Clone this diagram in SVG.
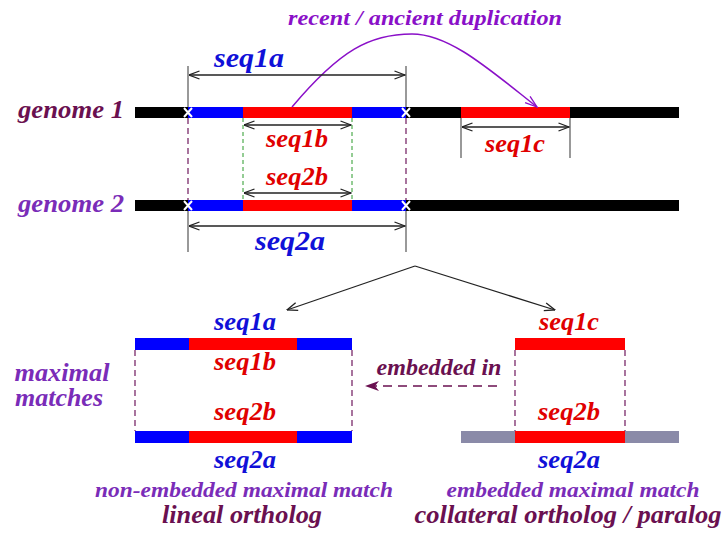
<svg xmlns="http://www.w3.org/2000/svg" width="724" height="533" viewBox="0 0 724 533" font-family="'Liberation Serif', 'DejaVu Serif', 'Times New Roman', serif" font-weight="bold" font-style="italic">
<defs>
<style>
text{text-anchor:middle}
.blue{fill:#1010d8}
.red{fill:#e00000}
.pur{fill:#7a2cb8}
.vio{fill:#8a10c8}
.mar{fill:#6a1050}
.dim{stroke:#222;stroke-width:1.3;fill:none}
.tick{stroke:#555;stroke-width:1.2}
.gdash{stroke:#2a9a2a;stroke-width:1;stroke-dasharray:4,3}
.pdash{stroke:#7a2a6a;stroke-width:1.3;stroke-dasharray:6,4}
.xm{stroke:#fff;stroke-width:2}
</style>
<marker id="open" viewBox="0 0 12 10" refX="11.5" refY="5" markerWidth="12" markerHeight="10" markerUnits="userSpaceOnUse" orient="auto-start-reverse">
<path d="M1,1 L11.5,5 L1,9" fill="none" stroke="#222" stroke-width="1.3"/>
</marker>
<marker id="openv" viewBox="0 0 14 10" refX="13" refY="5" markerWidth="14" markerHeight="10" markerUnits="userSpaceOnUse" orient="auto">
<path d="M1,1 L13,5 L1,9" fill="none" stroke="#8a10c8" stroke-width="1.3"/>
</marker>
<marker id="fill" viewBox="0 0 14 10" refX="13" refY="5" markerWidth="14" markerHeight="10" markerUnits="userSpaceOnUse" orient="auto">
<path d="M0,0 L14,5 L0,10 L4,5 Z" fill="#6a1050"/>
</marker>
</defs>
<rect width="724" height="533" fill="#fff"/>

<g id="title">
<text class="vio" x="425" y="25" font-size="22" textLength="274" lengthAdjust="spacingAndGlyphs">recent / ancient duplication</text>
</g>

<g id="genome1">
<text class="mar" x="71" y="118" font-size="25" textLength="106" lengthAdjust="spacingAndGlyphs">genome 1</text>
<rect x="135" y="107" width="544" height="11" fill="#000"/>
<rect x="188" y="107" width="55" height="11" fill="#0000ff"/>
<rect x="243" y="107" width="109" height="11" fill="#ff0000"/>
<rect x="352" y="107" width="54" height="11" fill="#0000ff"/>
<rect x="461" y="107" width="109" height="11" fill="#ff0000"/>
<path class="xm" d="M184,108 L192,117 M192,108 L184,117 M402,108 L410,117 M410,108 L402,117"/>
</g>

<g id="genome2">
<text class="pur" x="71" y="212" font-size="25" textLength="106" lengthAdjust="spacingAndGlyphs">genome 2</text>
<rect x="135" y="200" width="544" height="11" fill="#000"/>
<rect x="188" y="200" width="55" height="11" fill="#0000ff"/>
<rect x="243" y="200" width="109" height="11" fill="#ff0000"/>
<rect x="352" y="200" width="54" height="11" fill="#0000ff"/>
<path class="xm" d="M184,201 L192,210 M192,201 L184,210 M402,201 L410,210 M410,201 L402,210"/>
</g>

<g id="connectors">
<path d="M292,107 C340,50 370,34 412,34 C450,34 490,70 537,107" fill="none" stroke="#8a10c8" stroke-width="1.5" marker-end="url(#openv)"/>
<line class="tick" x1="188" y1="66" x2="188" y2="107"/>
<line class="tick" x1="406" y1="66" x2="406" y2="107"/>
<line class="dim" x1="189" y1="75" x2="405" y2="75" marker-start="url(#open)" marker-end="url(#open)"/>
<line class="dim" x1="244" y1="125" x2="351" y2="125" marker-start="url(#open)" marker-end="url(#open)"/>
<line class="tick" x1="461" y1="118" x2="461" y2="158"/>
<line class="tick" x1="570" y1="118" x2="570" y2="158"/>
<line class="dim" x1="462" y1="127" x2="569" y2="127" marker-start="url(#open)" marker-end="url(#open)"/>
<line class="gdash" x1="243" y1="118" x2="243" y2="200"/>
<line class="gdash" x1="352" y1="118" x2="352" y2="200"/>
<line class="pdash" x1="188" y1="118" x2="188" y2="200"/>
<line class="pdash" x1="406" y1="118" x2="406" y2="200"/>
<line class="dim" x1="244" y1="193" x2="351" y2="193" marker-start="url(#open)" marker-end="url(#open)"/>
<line class="tick" x1="188" y1="211" x2="188" y2="252"/>
<line class="tick" x1="406" y1="211" x2="406" y2="252"/>
<line class="dim" x1="189" y1="226" x2="405" y2="226" marker-start="url(#open)" marker-end="url(#open)"/>
<path class="dim" d="M415,266 L287,310" marker-end="url(#open)"/>
<path class="dim" d="M415,266 L555,310" marker-end="url(#open)"/>
<line class="pdash" x1="135" y1="350" x2="135" y2="431"/>
<line class="pdash" x1="352" y1="350" x2="352" y2="431"/>
<line class="pdash" x1="515" y1="350" x2="515" y2="431"/>
<line class="pdash" x1="625" y1="350" x2="625" y2="431"/>
<line x1="497" y1="386" x2="366" y2="386" stroke="#6a1050" stroke-width="1.5" stroke-dasharray="9,6" marker-end="url(#fill)"/>
</g>

<g id="labels-top">
<text class="blue" x="249" y="67" font-size="28" textLength="70" lengthAdjust="spacingAndGlyphs">seq1a</text>
<text class="red" x="297" y="147" font-size="25" textLength="62" lengthAdjust="spacingAndGlyphs">seq1b</text>
<text class="red" x="515" y="152" font-size="25" textLength="60" lengthAdjust="spacingAndGlyphs">seq1c</text>
<text class="red" x="297" y="185" font-size="25" textLength="62" lengthAdjust="spacingAndGlyphs">seq2b</text>
<text class="blue" x="290" y="250" font-size="28" textLength="70" lengthAdjust="spacingAndGlyphs">seq2a</text>
</g>

<g id="match-left">
<text class="blue" x="245" y="330" font-size="25" textLength="62" lengthAdjust="spacingAndGlyphs">seq1a</text>
<rect x="135" y="338" width="217" height="12" fill="#0000ff"/>
<rect x="189" y="338" width="108" height="12" fill="#ff0000"/>
<text class="red" x="245" y="370" font-size="25" textLength="62" lengthAdjust="spacingAndGlyphs">seq1b</text>
<text class="red" x="245" y="420" font-size="25" textLength="62" lengthAdjust="spacingAndGlyphs">seq2b</text>
<rect x="135" y="431" width="217" height="12" fill="#0000ff"/>
<rect x="189" y="431" width="108" height="12" fill="#ff0000"/>
<text class="blue" x="245" y="468" font-size="25" textLength="62" lengthAdjust="spacingAndGlyphs">seq2a</text>
</g>

<g id="match-right">
<text class="red" x="569" y="330" font-size="25" textLength="60" lengthAdjust="spacingAndGlyphs">seq1c</text>
<rect x="515" y="338" width="110" height="12" fill="#ff0000"/>
<text class="red" x="569" y="420" font-size="25" textLength="62" lengthAdjust="spacingAndGlyphs">seq2b</text>
<rect x="461" y="431" width="218" height="12" fill="#8a8aa8"/>
<rect x="515" y="431" width="110" height="12" fill="#ff0000"/>
<text class="blue" x="569" y="468" font-size="25" textLength="62" lengthAdjust="spacingAndGlyphs">seq2a</text>
</g>

<g id="side-labels">
<text class="pur" x="62" y="381" font-size="25" textLength="95" lengthAdjust="spacingAndGlyphs">maximal</text>
<text class="pur" x="59" y="406" font-size="25" textLength="88" lengthAdjust="spacingAndGlyphs">matches</text>
<text class="mar" x="439" y="375" font-size="23" textLength="125" lengthAdjust="spacingAndGlyphs">embedded in</text>
</g>

<g id="captions">
<text class="pur" x="244" y="497" font-size="22" textLength="298" lengthAdjust="spacingAndGlyphs">non-embedded maximal match</text>
<text class="mar" x="242" y="523" font-size="25" textLength="160" lengthAdjust="spacingAndGlyphs">lineal ortholog</text>
<text class="pur" x="573" y="497" font-size="22" textLength="253" lengthAdjust="spacingAndGlyphs">embedded maximal match</text>
<text class="mar" x="568" y="523" font-size="25" textLength="307" lengthAdjust="spacingAndGlyphs">collateral ortholog / paralog</text>
</g>
</svg>
